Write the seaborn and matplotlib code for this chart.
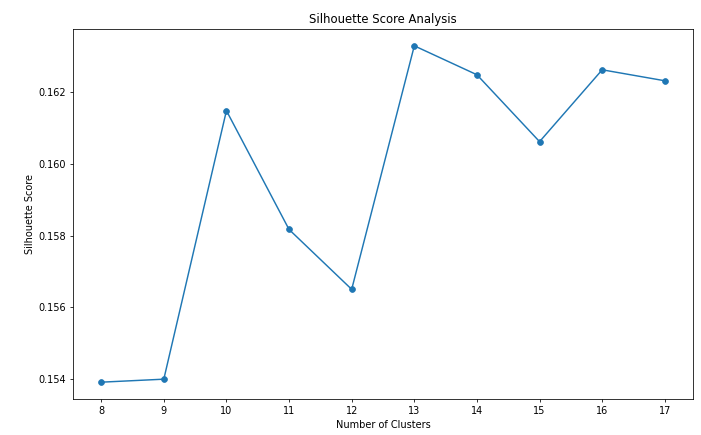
import matplotlib
matplotlib.use("Agg")
import matplotlib.pyplot as plt
import seaborn as sns
import pandas as pd

clusters = [8, 9, 10, 11, 12, 13, 14, 15, 16, 17]
scores = [0.153902, 0.153986, 0.161490, 0.158170, 0.156497,
          0.163303, 0.162494, 0.160625, 0.162633, 0.162326]

df = pd.DataFrame({"Number of Clusters": clusters, "Silhouette Score": scores})

fig = plt.figure(figsize=(701 / 70, 435 / 70), dpi=70)
ax = fig.add_axes([73 / 701, 1 - 399 / 435, (693 - 73) / 701, (399 - 29) / 435])
color = "#1f77b4"
sns.lineplot(data=df, x="Number of Clusters", y="Silhouette Score", marker="o",
             color=color, markeredgecolor=color, markersize=6, linewidth=1.5, ax=ax)
ax.set_xticks(clusters)
ax.set_yticks([0.154, 0.156, 0.158, 0.160, 0.162])
ax.set_title("Silhouette Score Analysis")
ax.set_xlabel("Number of Clusters")
ax.set_ylabel("Silhouette Score")
fig.savefig("out.png", dpi=70)
